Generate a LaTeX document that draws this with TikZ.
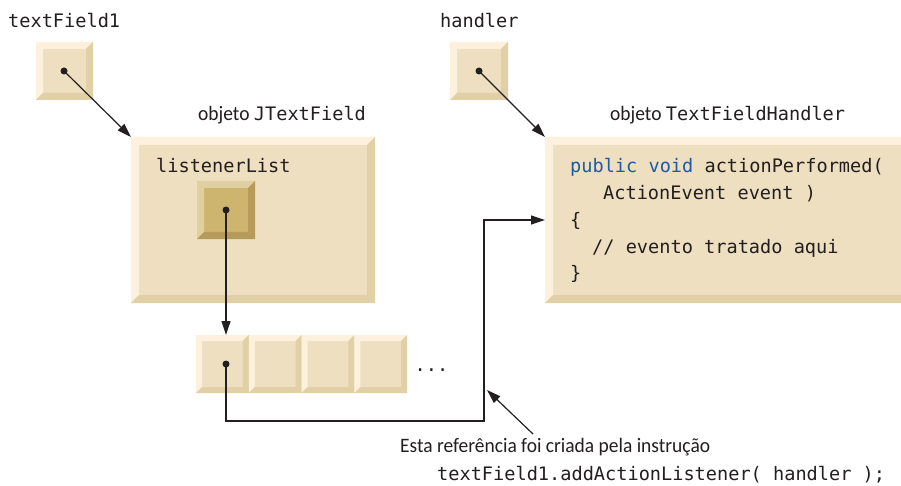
\documentclass[tikz,border=0pt]{standalone}
\usepackage{fontspec}
\setmainfont{Carlito}[FakeStretch=0.95]
\newfontfamily\codefont{DejaVu Sans Mono}
\usetikzlibrary{arrows.meta,calc}
\definecolor{face}{RGB}{237,223,192}
\definecolor{bevlight}{RGB}{253,240,220}
\definecolor{bevdark}{RGB}{225,208,166}
\definecolor{dface}{RGB}{206,181,111}
\definecolor{dlight}{RGB}{224,207,160}
\definecolor{ddark}{RGB}{182,155,90}
\definecolor{ink}{RGB}{35,31,32}
\definecolor{kw}{RGB}{30,90,170}
\newcommand\bevelpaint[3]{%
  \fill[#2] (path picture bounding box.north west) -- (path picture bounding box.north east)
    -- ([shift={(-#1,-#1)}]path picture bounding box.north east)
    -- ([shift={(#1,-#1)}]path picture bounding box.north west)
    -- ([shift={(#1,#1)}]path picture bounding box.south west)
    -- (path picture bounding box.south west) -- cycle;
  \fill[#3] (path picture bounding box.south east) -- (path picture bounding box.south west)
    -- ([shift={(#1,#1)}]path picture bounding box.south west)
    -- ([shift={(-#1,#1)}]path picture bounding box.south east)
    -- ([shift={(-#1,-#1)}]path picture bounding box.north east)
    -- (path picture bounding box.north east) -- cycle;}
\tikzset{
  box/.style={rectangle, inner sep=0pt, outer sep=0pt, fill=face,
    path picture={\bevelpaint{#1}{bevlight}{bevdark}}},
  box/.default=7pt,
  dbox/.style={rectangle, inner sep=0pt, outer sep=0pt, fill=dface,
    path picture={\bevelpaint{7pt}{dlight}{ddark}}},
  refdot/.style={circle, fill=ink, inner sep=0pt, minimum size=7pt},
  code/.style={inner sep=0pt, anchor=base west, text=ink, font=\codefont\fontsize{18.6}{22}\selectfont},
  sans/.style={inner sep=0pt, anchor=base west, text=ink, font=\fontsize{20.5}{24}\selectfont},
  arr/.style={draw=ink, line width=1.2pt, -{Triangle[length=14pt,width=9pt]}},
  wire/.style={draw=ink, line width=1.2pt}
}
\begin{document}
\begin{tikzpicture}[x=1pt,y=-1pt]
\clip (0,0) rectangle (901,486);
\fill[white] (0,0) rectangle (901,486);
% labels
\node[code] (tflabel) at (8,28) {textField1};
\node[code] (hlabel) at (440,28) {handler};
\node[sans] (jtflabel) at (198,121) {objeto {\codefont\fontsize{18.6}{22}\selectfont JTextField}};
\node[sans] (hobjlabel) at (610,121) {objeto {\codefont\fontsize{18.6}{22}\selectfont TextFieldHandler}};
% reference boxes
\node[box, minimum width=57pt, minimum height=58pt] (tfbox) at (64.5,71) {};
\node[box, minimum width=58pt, minimum height=58pt] (hbox) at (479,71) {};
% JTextField object
\node[box=8pt, minimum width=244pt, minimum height=166pt] (jtf) at (253,220) {};
\node[code] (lllabel) at (156,173) {listenerList};
\node[dbox, minimum width=58pt, minimum height=58pt] (llbox) at (226,210) {};
% handler object
\node[box=8pt, minimum width=380pt, minimum height=166pt, anchor=west] (hobj) at (545,220) {};
\node[code] (l1) at (570,173) {{\color{kw}public void} actionPerformed(};
\node[code] (l2) at (603,199.7) {ActionEvent event )};
\node[code] (l3) at (570,226.3) {\{};
\node[code] (l4) at (592,253) {// evento tratado aqui};
\node[code] (l5) at (570,279.7) {\}};
% array
\foreach \i in {0,1,2,3}{
  \node[box=6pt, minimum width=52.75pt, minimum height=58pt] (c\i) at (222.4+52.75*\i,364) {};
}
\node[code] (dots) at (414.4,371) {...};
% dots
\node[refdot] (tfdot) at (64,71) {};
\node[refdot] (hdot) at (479,71) {};
\node[refdot] (lldot) at (226,210) {};
\node[refdot] (cdot) at (226,364) {};
% connectors
\draw[arr] (tfdot.center) -- (jtf.north west);
\draw[arr] (hdot.center) -- (hobj.north west);
\draw[arr] (lldot.center) -- (lldot |- c0.north);
\coordinate (turn) at (484,421);
\draw[arr] (cdot.center) |- (turn) |- (hobj.west);
% annotation
\coordinate (annottail) at (533,434);
\coordinate (annottip) at (487,390);
\draw[arr] (annottail) -- (annottip);
\node[sans] (note1) at (400,452) {Esta referência foi criada pela instrução};
\node[code] (note2) at (437,480) {textField1.addActionListener( handler );};
\end{tikzpicture}
\end{document}
